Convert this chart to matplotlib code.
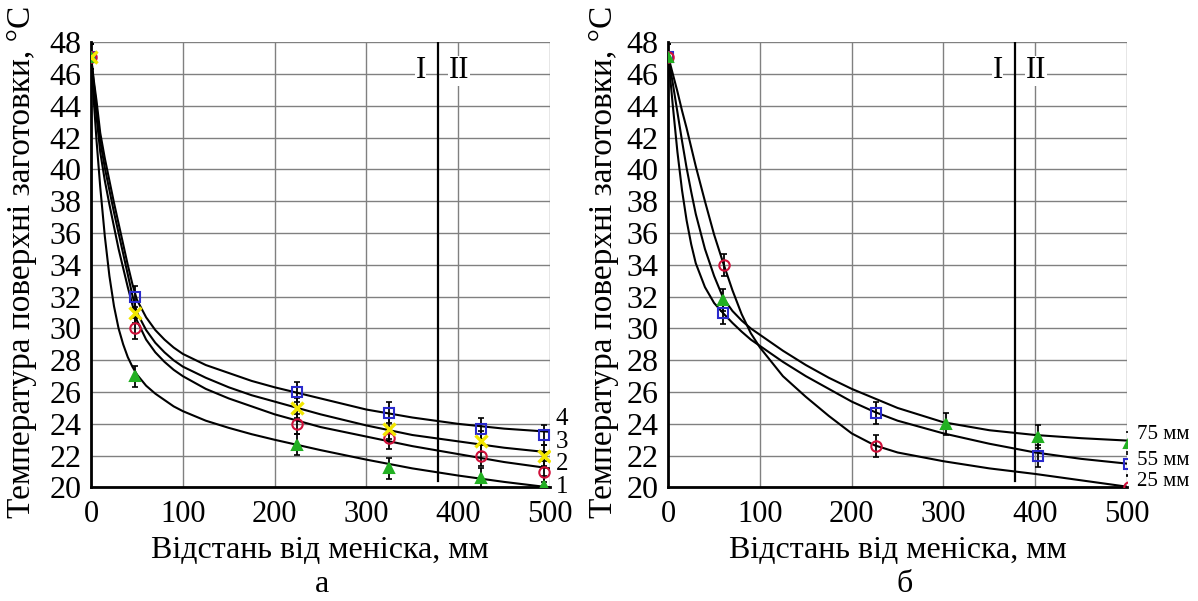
import numpy as np
import matplotlib.pyplot as plt

plt.rcParams['font.family'] = ['Liberation Serif', 'DejaVu Serif']

# ---- panel a: measured points ----
xa = [0, 48, 224, 325, 425, 494]
a_sq = [47.1, 32.0, 26.0, 24.7, 23.7, 23.3]   # 4
a_x = [47.1, 31.0, 25.0, 23.7, 22.9, 22.0]    # 3
a_ci = [47.1, 30.0, 24.0, 23.1, 22.0, 21.0]   # 2
a_tr = [47.1, 27.0, 22.7, 21.2, 20.6, 20.1]   # 1
err_a = [0.8, 0.65, 0.65, 0.65, 0.65, 0.65]

# ---- panel a: fitted curves ----
xca = [0, 3, 6, 10, 15, 20, 25, 30, 35, 40, 45, 50, 60, 70, 80, 90, 100,
       125, 150, 175, 200, 250, 300, 350, 400, 450, 500]
a_c4 = [47.1, 45.6, 44.3, 42.3, 40.7, 39.3, 37.9, 36.6, 35.3, 34.0, 32.8,
        31.8, 30.7, 29.9, 29.3, 28.8, 28.4, 27.7, 27.2, 26.7, 26.3, 25.6,
        24.9, 24.4, 24.0, 23.7, 23.5]
a_c3 = [47.1, 45.4, 43.9, 41.8, 40.1, 38.7, 37.3, 36.0, 34.7, 33.4, 32.1,
        31.0, 29.9, 29.1, 28.5, 28.0, 27.6, 26.9, 26.3, 25.8, 25.4, 24.6,
        23.9, 23.3, 22.9, 22.5, 22.2]
a_c2 = [47.1, 45.0, 43.3, 41.1, 39.3, 37.8, 36.4, 35.0, 33.8, 32.6, 31.5,
        30.5, 29.3, 28.5, 27.9, 27.4, 27.0, 26.2, 25.6, 25.1, 24.6, 23.8,
        23.2, 22.6, 22.1, 21.6, 21.2]
a_c1 = [47.1, 44.3, 41.8, 38.9, 35.8, 33.3, 31.4, 30.0, 29.0, 28.2, 27.6,
        27.1, 26.4, 25.9, 25.5, 25.1, 24.8, 24.2, 23.75, 23.35, 23.0, 22.35,
        21.75, 21.2, 20.75, 20.35, 20.0]

# ---- panel b: measured points ----
xb_sq = [0, 60, 226, 403, 502]
b_sq = [47.1, 31.0, 24.7, 22.0, 21.5]         # 55 mm
xb_ci = [0, 61, 226, 502]
b_ci = [47.1, 34.0, 22.6, 20.0]               # 25 mm
xb_tr = [0, 60, 303, 403, 502]
b_tr = [47.1, 31.8, 24.0, 23.2, 22.8]         # 75 mm

# ---- panel b: fitted curves ----
xcb = [0, 5, 10, 15, 20, 25, 30, 40, 50, 60, 70, 80, 90, 100, 125, 150,
       175, 200, 225, 250, 300, 350, 400, 450, 500]
b_c75 = [47.1, 45.4, 43.6, 41.8, 40.1, 38.6, 37.2, 35.0, 33.3, 31.9, 31.1,
         30.5, 30.0, 29.6, 28.6, 27.7, 26.9, 26.2, 25.6, 25.0, 24.1, 23.6,
         23.3, 23.1, 22.95]
b_c55 = [47.1, 44.0, 41.1, 38.7, 36.8, 35.3, 34.1, 32.6, 31.6, 30.95, 30.35,
         29.8, 29.3, 28.9, 27.9, 27.0, 26.2, 25.4, 24.75, 24.2, 23.4, 22.75,
         22.2, 21.8, 21.5]
b_c25 = [47.1, 46.0, 44.9, 43.7, 42.6, 41.4, 40.2, 38.0, 35.9, 34.1, 32.4,
         30.9, 29.7, 28.8, 27.0, 25.7, 24.5, 23.4, 22.65, 22.2, 21.65, 21.2,
         20.85, 20.45, 20.05]

blue = '#2a2acc'
red = '#d0103a'
yellow = '#f2e600'
green = '#22b022'

fig = plt.figure(figsize=(11.98, 6.01), dpi=100)
ax1 = fig.add_axes([0.0760, 0.1889, 0.3831, 0.7408])
ax2 = fig.add_axes([0.5578, 0.1889, 0.3829, 0.7408])


def style(ax):
    ax.set_xlim(0, 500)
    ax.set_ylim(20, 48)
    ax.set_xticks(range(0, 501, 100))
    ax.set_yticks(range(20, 49, 2))
    ax.grid(True, color='#808080', lw=1)
    ax.set_axisbelow(True)
    for s in ['top', 'right']:
        ax.spines[s].set_visible(False)
    for s in ['left', 'bottom']:
        ax.spines[s].set_linewidth(2)
    ax.tick_params(axis='y', labelsize=23, length=0, pad=7)
    ax.tick_params(axis='x', labelsize=22, length=0, pad=9)
    ax.axvline(378, ymin=0.015, ymax=1, color='black', lw=1.6, zorder=3)
    ax.text(359, 46.2, 'I', fontsize=22, ha='center', va='center',
            bbox=dict(fc='white', ec='none', pad=0.5))
    ax.text(401, 46.2, 'II', fontsize=22, ha='center', va='center',
            bbox=dict(fc='white', ec='none', pad=0.5))


def points(ax, x, y, err, marker, color, filled=False):
    ax.errorbar(x, y, yerr=err, fmt='none', ecolor='black', elinewidth=1.3,
                capsize=2.5, capthick=1.2, zorder=4)
    if marker == 'x':
        ax.plot(x, y, 'x', ms=8, mew=2.4, color=color, zorder=5)
    else:
        ax.plot(x, y, marker, ms=7.5, mew=1.5, mec=color,
                mfc=color if filled else 'none', zorder=5)


style(ax1)
for c in [a_c4, a_c3, a_c2, a_c1]:
    ax1.plot(xca, c, color='black', lw=1.5, zorder=3)
points(ax1, xa, a_sq, err_a, 's', blue)
points(ax1, xa, a_ci, err_a, 'o', red)
points(ax1, xa, a_tr, err_a, '^', green, filled=True)
points(ax1, xa, a_x, err_a, 'x', yellow)
for lab, yv in zip(['4', '3', '2', '1'], [24.3, 22.85, 21.5, 20.05]):
    ax1.text(506, yv, lab, fontsize=18, ha='left', va='center', clip_on=False)

style(ax2)
for c in [b_c75, b_c55, b_c25]:
    ax2.plot(xcb, c, color='black', lw=1.5, zorder=3)
points(ax2, xb_sq, b_sq, [0.8] + [0.7] * 4, 's', blue)
points(ax2, xb_ci, b_ci, [0.8] + [0.7] * 3, 'o', red)
points(ax2, xb_tr, b_tr, [0.8] + [0.7] * 4, '^', green, filled=True)
for lab, yv in zip(['75 мм', '55 мм', '25 мм'], [23.3, 21.7, 20.4]):
    ax2.text(511, yv, lab, fontsize=15, ha='left', va='center', clip_on=False)

xlabel = 'Відстань від меніска, мм'
ylabel = 'Температура поверхні заготовки, °С'
fig.text(320 / 1198, 1 - 550 / 601, xlabel, fontsize=23, ha='center', va='center')
fig.text(898 / 1198, 1 - 550 / 601, xlabel, fontsize=23, ha='center', va='center')
fig.text(22 / 1198, 1 - 262 / 601, ylabel, fontsize=24, rotation=90, ha='center', va='center')
fig.text(604 / 1198, 1 - 262 / 601, ylabel, fontsize=24, rotation=90, ha='center', va='center')
fig.text(322 / 1198, 1 - 584 / 601, 'а', fontsize=23, ha='center', va='center')
fig.text(905 / 1198, 1 - 584 / 601, 'б', fontsize=23, ha='center', va='center')

fig.savefig('out.png', dpi=100)
